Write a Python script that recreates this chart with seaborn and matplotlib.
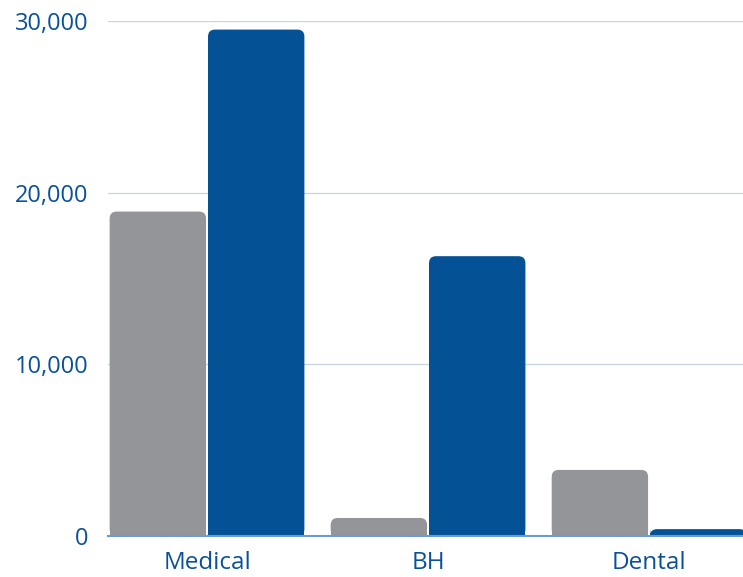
import seaborn as sns
import matplotlib.pyplot as plt
from matplotlib.patches import FancyBboxPatch, Rectangle
from matplotlib.ticker import FuncFormatter
import pandas as pd

categories = ['Medical', 'BH', 'Dental']
series_names = ['Series 1', 'Series 2']
series_1 = [18900, 1050, 3850]
series_2 = [29500, 16300, 400]
colors = ['#939598', '#045196']
label_color = '#0A519A'

sns.set_style('white')
plt.rcParams['font.family'] = ['Open Sans', 'DejaVu Sans']

df = pd.DataFrame({
    'category': categories * 2,
    'series': [series_names[0]] * 3 + [series_names[1]] * 3,
    'value': series_1 + series_2,
})

fig = plt.figure(figsize=(7.43, 5.77), dpi=100)
ax = fig.add_axes([108 / 743, 41 / 577, 1 - 108 / 743, (536 - 21) / 577])

sns.barplot(data=df, x='category', y='value', hue='series', palette=colors,
            width=0.89, gap=0.02, errorbar=None, legend=False, ax=ax,
            saturation=1, zorder=3)

ax.set_xlim(-0.448, 2.425)
ax.set_ylim(0, 30000)

# swap plain bars for ones with rounded top corners
rx = 7 / 221
ry = 7 * 10000 / 171.7
for p in list(ax.patches):
    x, w, h = p.get_x(), p.get_width(), p.get_height()
    c = p.get_facecolor()
    p.remove()
    if h <= 0:
        continue
    rb = FancyBboxPatch((x, 0), w, h, boxstyle='round,pad=0,rounding_size=%f' % rx,
                        mutation_aspect=ry / rx, facecolor=c, edgecolor='none',
                        zorder=3, clip_on=True)
    ax.add_patch(rb)
    sq = min(h, max(h - ry, h / 2))
    ax.add_patch(Rectangle((x, 0), w, sq, facecolor=c, edgecolor='none', zorder=3))

ax.set_yticks([0, 10000, 20000, 30000])
ax.yaxis.set_major_formatter(FuncFormatter(lambda v, _: '{:,.0f}'.format(v)))
ax.grid(axis='y', color='#C5D3E3', linewidth=0.9, zorder=0)
ax.grid(axis='x', visible=False)
for s in ['top', 'right', 'left']:
    ax.spines[s].set_visible(False)
ax.spines['bottom'].set_color('#6A9BD1')
ax.spines['bottom'].set_linewidth(1.5)
ax.spines['bottom'].set_zorder(4)

ax.tick_params(axis='y', length=0, pad=14, labelsize=17, labelcolor=label_color)
ax.tick_params(axis='x', length=0, pad=11, labelsize=17.5, labelcolor=label_color)
ax.set_xlabel('')
ax.set_ylabel('')

plt.savefig('out.png', dpi=100)
